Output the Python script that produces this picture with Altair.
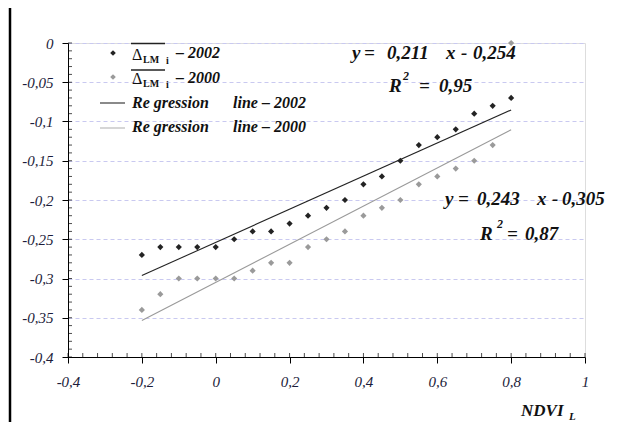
import altair as alt
import pandas as pd

# ---- data ----
ndvi = [-0.2, -0.15, -0.1, -0.05, 0.0, 0.05, 0.1, 0.15, 0.2, 0.25, 0.3,
        0.35, 0.4, 0.45, 0.5, 0.55, 0.6, 0.65, 0.7, 0.75, 0.8]
delta_2002 = [-0.27, -0.26, -0.26, -0.26, -0.26, -0.25, -0.24, -0.24, -0.23, -0.22, -0.21,
              -0.20, -0.18, -0.17, -0.15, -0.13, -0.12, -0.11, -0.09, -0.08, -0.07]
delta_2000 = [-0.34, -0.32, -0.30, -0.30, -0.30, -0.30, -0.29, -0.28, -0.28, -0.26, -0.25,
              -0.24, -0.22, -0.21, -0.20, -0.18, -0.17, -0.16, -0.15, -0.13, 0.0]
series = ["2002", "2000"]
slopes = [0.211, 0.243]
intercepts = [-0.254, -0.305]
line_x = [-0.2, 0.8]

x_major = [-0.4, -0.2, 0, 0.2, 0.4, 0.6, 0.8, 1.0]
x_minor = [round(-0.4 + 0.04 * i, 2) for i in range(36)]
y_major = [0, -0.05, -0.1, -0.15, -0.2, -0.25, -0.3, -0.35, -0.4]
y_minor = [round(-0.01 * i, 2) for i in range(41)]

pts = pd.DataFrame({
    "x": ndvi * 2,
    "y": delta_2002 + delta_2000,
    "s": ["2002"] * len(ndvi) + ["2000"] * len(ndvi),
})
lines = pd.DataFrame([
    {"x": xv, "y": m * xv + b, "s": s}
    for s, m, b in zip(series, slopes, intercepts) for xv in line_x
])
x_inner = pd.DataFrame({"v": sorted(set(x_minor + x_major))})
y_inner = pd.DataFrame({"v": sorted(set(y_minor + y_major))})

FONT = "Liberation Serif"
OX, OY = 68, 43  # plot origin in page pixels (for annotations only)
LBL = "replace(toString(datum.value), '.', ',')"

xs = alt.Scale(domain=[-0.4, 1.0], nice=False, zero=False)
ys = alt.Scale(domain=[-0.4, 0], nice=False, zero=False)
pt_col = alt.Scale(domain=series, range=["#232323", "#9a9a9a"])
ln_col = alt.Scale(domain=series, range=["#2a2a2a", "#b4b4b4"])

X_AX = alt.Axis(values=x_major, labelExpr=LBL, orient="bottom", grid=False,
                domainColor="#000", tickColor="#000", tickSize=6, labelPadding=11,
                labelFont=FONT, labelFontStyle="italic", labelFontSize=15,
                labelColor="#1c1c3a", title=None, labelFlush=False)
Y_AX = alt.Axis(values=y_major, labelExpr=LBL, orient="left", grid=True,
                gridColor="#c9c9f0", gridDash=[4, 3], gridWidth=1,
                domainColor="#000", tickColor="#000", tickSize=6, labelPadding=9,
                labelFont=FONT, labelFontStyle="italic", labelFontSize=15,
                labelColor="#1c1c3a", title=None, labelFlush=False)

points = alt.Chart(pts).mark_point(shape="diamond", filled=True, size=38, opacity=1).encode(
    x=alt.X("x:Q", scale=xs, axis=X_AX),
    y=alt.Y("y:Q", scale=ys, axis=Y_AX),
    color=alt.Color("s:N", scale=pt_col, legend=None),
)
reg = alt.Chart(lines).mark_line(strokeWidth=1.1).encode(
    x=alt.X("x:Q", scale=xs, axis=X_AX),
    y=alt.Y("y:Q", scale=ys, axis=Y_AX),
    color=alt.Color("s:N", scale=ln_col, legend=None),
    detail="s:N",
)
# inward-pointing minor ticks on both axes
yticks = alt.Chart(y_inner).mark_tick(orient="horizontal", size=4, thickness=1, color="#000").encode(
    y=alt.Y("v:Q", scale=ys, axis=Y_AX), x=alt.value(2))
xticks = alt.Chart(x_inner).mark_tick(orient="vertical", size=4, thickness=1, color="#000").encode(
    x=alt.X("v:Q", scale=xs, axis=X_AX), y=alt.value(312))

one = alt.Data(values=[{}])


def txt(s, px, py, size, weight="bold", style="italic", color="#111111", align="left"):
    return alt.Chart(one).mark_text(
        text=s, font=FONT, fontSize=size, fontStyle=style, fontWeight=weight,
        align=align, baseline="alphabetic", color=color,
    ).encode(x=alt.value(px - OX), y=alt.value(py - OY))


def sym(px, py, color):
    return alt.Chart(one).mark_point(shape="diamond", filled=True, size=32, color=color,
                                     opacity=1).encode(x=alt.value(px - OX), y=alt.value(py - OY))


def hline(x1, x2, py, color, w=1.1):
    return alt.Chart(one).mark_rule(color=color, strokeWidth=w).encode(
        x=alt.value(x1 - OX), x2=alt.value(x2 - OX), y=alt.value(py - OY))


ann = [
    # legend
    sym(113, 53, "#232323"), txt("Δ", 132, 60, 16, weight="normal", style="normal"),
    txt("LM", 143, 63, 10, style="normal"), txt("i", 166, 64, 10, style="normal"),
    hline(131, 165, 43.5, "#222222", 1.3), txt("– 2002", 176, 58, 16),
    sym(113, 77, "#9a9a9a"), txt("Δ", 132, 84, 16, weight="normal", style="normal"),
    txt("LM", 143, 87, 10, style="normal"), txt("i", 166, 88, 10, style="normal"),
    hline(131, 165, 70, "#222222", 1.3), txt("– 2000", 176, 83, 16),
    hline(100, 125, 103, "#2a2a2a"), txt("Re gression", 132, 108, 16), txt("line – 2002", 233, 108, 16),
    hline(100, 125, 128, "#b4b4b4"), txt("Re gression", 132, 132, 16), txt("line – 2000", 233, 132, 16),
    # equation 2002
    txt("y", 352, 59, 19), txt("=", 364, 59, 19), txt("0,211", 387, 59, 19),
    txt("x", 446, 59, 19), txt("-", 461, 59, 19), txt("0,254", 473, 59, 19),
    txt("R", 389, 92, 19), txt("2", 403, 80, 12), txt("=", 419, 92, 19), txt("0,95", 439, 92, 19),
    # equation 2000
    txt("y", 445, 205, 19), txt("=", 458, 205, 19), txt("0,243", 477, 205, 19),
    txt("x", 537, 205, 19), txt("-", 552, 205, 19), txt("0,305", 562, 205, 19),
    txt("R", 480, 240, 19), txt("2", 497, 228, 12), txt("=", 507, 240, 19), txt("0,87", 525, 240, 19),
    # axis title
    txt("NDVI", 521, 416, 17), txt("L", 569, 420, 11),
    # left frame line
    alt.Chart(one).mark_rule(color="#000", strokeWidth=2.5).encode(
        x=alt.value(10 - OX), y=alt.value(-OY), y2=alt.value(430 - OY)),
]

chart = alt.layer(points, reg, yticks, xticks, *ann).properties(
    width=517, height=314,
    padding={"left": 60, "top": 35, "right": 25, "bottom": 65},
    autosize=alt.AutoSizeParams(type="none"),
).configure_view(stroke=None).configure(background="white")

chart.save("out.html", embed_options={"renderer": "svg", "actions": False})
